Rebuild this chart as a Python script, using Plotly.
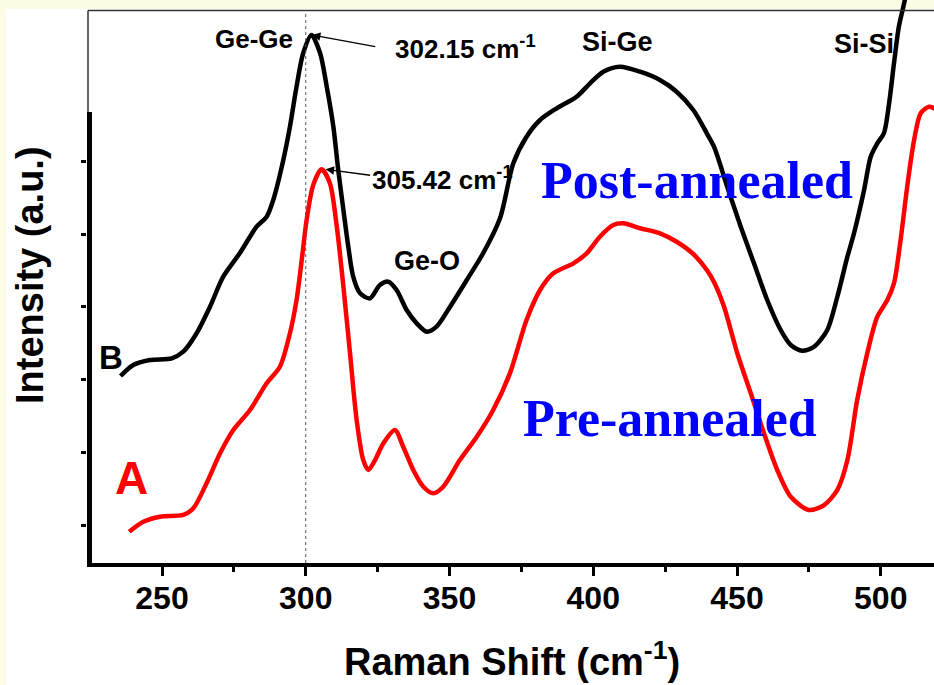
import plotly.graph_objects as go

# ---------------- data ----------------
shift_B = [235.6, 240.0, 245.8, 253.4, 257.4, 262.1, 266.7, 271.3, 277.1, 282.9, 286.4, 288.7,
           292.2, 294.5, 296.8, 299.1, 302.0, 305.0, 307.3, 309.6, 311.3, 313.1, 314.8, 316.5,
           318.9, 322.3, 325.8, 328.7, 331.6, 335.1, 338.6, 342.1, 345.5, 350.2, 356.0, 361.7,
           367.6, 372.2, 376.8, 381.5, 387.3, 394.2, 398.9, 403.5, 409.3, 416.3, 423.2, 429.0,
           434.8, 439.5, 442.0, 446.6, 451.3, 455.9, 460.5, 465.2, 468.7, 472.7, 476.8, 481.4,
           484.9, 488.4, 490.7, 494.2, 496.5, 498.8, 501.1, 502.9, 504.6, 506.3, 508.0, 509.4]
int_B = [205.0, 220.2, 227.0, 229.4, 238.5, 264.2, 300.4, 341.7, 374.3, 410.5, 424.2, 447.2,
         502.2, 548.1, 603.1, 649.1, 674.2, 649.1, 603.1, 548.1, 488.5, 433.4, 383.0, 341.7,
         318.8, 311.9, 330.2, 334.8, 323.4, 295.8, 277.5, 266.0, 272.9, 300.4, 337.1, 373.9,
         422.4, 497.7, 534.3, 557.3, 573.4, 589.3, 607.8, 623.7, 630.6, 623.7, 612.3, 596.2,
         571.0, 539.0, 520.5, 465.5, 410.5, 360.1, 309.6, 268.3, 247.7, 239.8, 245.3, 268.3,
         314.1, 369.2, 401.4, 461.0, 506.8, 525.2, 539.0, 580.2, 635.3, 685.7, 715.5, 743.0]

shift_A = [238.6, 243.5, 249.3, 257.4, 260.9, 265.5, 270.2, 274.8, 280.6, 286.4, 291.0, 294.5,
           296.8, 298.6, 300.3, 302.6, 305.5, 308.4, 310.8, 313.1, 315.4, 317.7, 320.0, 321.8,
           324.1, 327.0, 331.0, 333.9, 337.4, 340.9, 344.4, 347.8, 353.6, 359.5, 365.2, 371.0,
           376.8, 381.5, 386.1, 393.1, 397.7, 402.3, 407.0, 410.4, 416.3, 423.2, 429.0, 434.8,
           439.5, 442.0, 445.5, 450.1, 454.8, 459.4, 464.0, 468.7, 475.0, 480.3, 484.9, 488.4,
           491.8, 495.3, 498.8, 502.3, 504.6, 506.9, 509.2, 511.6, 513.9, 516.8, 518.5, 520.6]
int_A = [-9.2, 4.5, 11.4, 13.8, 23.0, 57.4, 98.7, 130.7, 158.2, 195.0, 217.8, 263.8,
         309.6, 364.6, 419.7, 467.8, 489.4, 470.2, 410.5, 327.9, 236.3, 144.5, 89.4, 75.7,
         89.4, 112.4, 130.7, 107.7, 75.7, 52.7, 43.6, 52.7, 89.4, 121.5, 158.2, 208.7,
         282.1, 323.4, 346.3, 360.1, 373.9, 396.7, 412.8, 415.1, 408.3, 401.4, 389.8, 372.9,
         350.9, 334.4, 300.4, 236.3, 181.2, 126.2, 75.7, 38.9, 20.6, 27.5, 48.2, 89.4,
         172.0, 236.3, 286.6, 309.6, 332.6, 392.2, 465.5, 529.8, 566.5, 575.6, 573.4, 568.3]

x_ticks = [250, 300, 350, 400, 450, 500]
x_minor = [275, 325, 375, 425, 475]
y_ticks = [0, 100, 200, 300, 400, 500]
peak_B = 302.15
peak_A = 305.42

# ---------------- layout helpers ----------------
FW, FH = 934, 685
L, R, T, B = 87, 0, 0, 122
PW, PH = FW - L - R, FH - T - B


def px(x):
    return (x - L) / PW


def py(y):
    return (FH - B - y) / PH


BOLD = "Liberation Sans, Arial, sans-serif"
SERIF = "Liberation Serif, Times New Roman, serif"

fig = go.Figure()
fig.add_trace(go.Scatter(x=shift_B, y=int_B, mode="lines",
                         line=dict(color="black", width=4.5, shape="spline", smoothing=0.8),
                         showlegend=False, hoverinfo="skip"))
fig.add_trace(go.Scatter(x=shift_A, y=int_A, mode="lines",
                         line=dict(color="#ff0000", width=4.5, shape="spline", smoothing=0.8),
                         showlegend=False, hoverinfo="skip"))

shapes = [
    # light yellow slide background strips
    dict(type="rect", xref="paper", yref="paper", x0=px(0), x1=px(FW), y0=py(9), y1=py(0),
         fillcolor="#fcfbe3", line=dict(width=0), layer="below"),
    dict(type="rect", xref="paper", yref="paper", x0=px(0), x1=px(6), y0=py(FH), y1=py(0),
         fillcolor="#fcfbe6", line=dict(width=0), layer="below"),
    # thin frame
    dict(type="line", xref="paper", yref="paper", x0=px(88), x1=px(FW), y0=py(10.5), y1=py(10.5),
         line=dict(color="#333333", width=1.5)),
    dict(type="line", xref="paper", yref="paper", x0=px(88), x1=px(88), y0=py(10.5), y1=py(563),
         line=dict(color="#333333", width=1.5)),
    # thick left axis
    dict(type="line", xref="paper", yref="paper", x0=px(89.5), x1=px(89.5), y0=py(112), y1=py(566),
         line=dict(color="black", width=5)),
    # dashed guide at 300
    dict(type="line", xref="x", yref="paper", x0=300, x1=300, y0=0, y1=py(10.5),
         line=dict(color="#555555", width=1, dash="3px,3px")),
]

ann = []


def label(text, x, y, size, color="black", family=BOLD, xanchor="center", angle=0):
    ann.append(dict(text=text, xref="paper", yref="paper", x=px(x), y=py(y), showarrow=False,
                    xanchor=xanchor, yanchor="middle", textangle=angle,
                    font=dict(family=family, size=size, color=color)))


label("<b>Ge-Ge</b>", 254, 39, 26)
label("<b>302.15 cm<sup>-1</sup></b>", 393, 47, 26, xanchor="left")
label("<b>305.42 cm<sup>-1</sup></b>", 370, 178, 26, xanchor="left")
label("<b>Ge-O</b>", 427, 261, 27)
label("<b>Si-Ge</b>", 617, 42, 27)
label("<b>Si-Si</b>", 864, 44, 27)
label("<b>B</b>", 111, 357, 33)
label("<b>A</b>", 131, 478, 46, color="#ff0000")
label("<b>Post-annealed</b>", 697, 180, 52, color="#0000ff", family=SERIF)
label("<b>Pre-annealed</b>", 670, 418, 52, color="#0000ff", family=SERIF)
label("<b>Raman Shift (cm<sup>-1</sup>)</b>", 512, 659, 38)
label("<b>Intensity (a.u.)</b>", 30, 275, 38, angle=-90)

# arrows pointing at the peaks
iB = int_B.index(max(int_B[:25]))
iA = int_A.index(max(int_A[:30]))
ann.append(dict(x=peak_B, y=int_B[iB], ax=324.7, ay=658, axref="x", ayref="y", xref="x", yref="y",
                text="", showarrow=True, arrowhead=2, arrowsize=1.3, arrowwidth=1.3, arrowcolor="black"))
ann.append(dict(x=peak_A + 1.5, y=int_A[iA], ax=322.9, ay=481, axref="x", ayref="y", xref="x", yref="y",
                text="", showarrow=True, arrowhead=2, arrowsize=1.3, arrowwidth=1.3, arrowcolor="black"))

fig.update_layout(
    width=FW, height=FH,
    margin=dict(l=L, r=R, t=T, b=B, pad=0),
    paper_bgcolor="white", plot_bgcolor="white",
    shapes=shapes, annotations=ann, showlegend=False,
    xaxis=dict(range=[250 + (L - 162) / 2.875, 250 + (FW - 162) / 2.875],
               tickmode="array", tickvals=x_ticks, ticktext=[str(v) for v in x_ticks],
               ticks="outside", ticklen=9, tickwidth=3, tickcolor="black",
               minor=dict(tickmode="array", tickvals=x_minor, ticks="outside", ticklen=5,
                          tickwidth=3, tickcolor="black"),
               showline=True, linewidth=4, linecolor="black", mirror=False,
               showgrid=False, zeroline=False, ticklabelstandoff=-5,
               tickfont=dict(family=BOLD, size=32, color="black", weight="bold")),
    yaxis=dict(range=[(525 - 563) * 1.376, 525 * 1.376],
               tickmode="array", tickvals=y_ticks, showticklabels=False,
               ticks="outside", ticklen=5, tickwidth=3, tickcolor="black",
               showline=False, showgrid=False, zeroline=False),
)

fig.write_html("out.html")
